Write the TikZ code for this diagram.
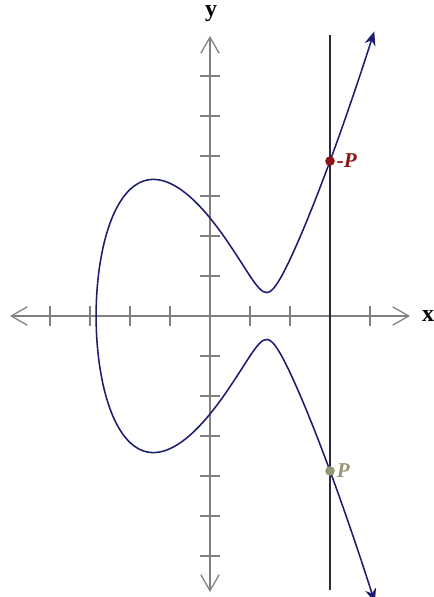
\documentclass[tikz,border=0pt]{standalone}
\usepackage{fontspec}
\setmainfont{Liberation Serif}
\usetikzlibrary{arrows.meta}
\definecolor{axisgray}{RGB}{128,128,128}
\definecolor{curvenavy}{RGB}{28,28,112}
\definecolor{linedark}{RGB}{45,40,60}
\definecolor{negred}{RGB}{140,20,20}
\definecolor{posolive}{RGB}{150,150,115}
\tikzset{
  axisline/.style={axisgray, line width=0.9pt, {Straight Barb[length=4mm,width=4.6mm]}-{Straight Barb[length=4mm,width=4.6mm]}},
  tickmark/.style={axisgray, line width=0.9pt},
  dotmark/.style={circle, inner sep=0pt, minimum size=2.4mm},
  ptlabel/.style={anchor=west, inner sep=1pt, font=\fontsize{15}{18}\selectfont\bfseries\itshape},
  axislabel/.style={font=\fontsize{17}{20}\selectfont\bfseries}
}

\begin{document}
\begin{tikzpicture}[x=1cm, y=1cm]
\useasboundingbox (-5.25,-7.025) rectangle (5.575,7.9);
\draw[axisline] (-5,0) -- (5,0);
\draw[axisline] (0,-6.9) -- (0,7);
\draw[tickmark] (-4,-0.25) -- (-4,0.25);
\draw[tickmark] (-3,-0.25) -- (-3,0.25);
\draw[tickmark] (-2,-0.25) -- (-2,0.25);
\draw[tickmark] (-1,-0.25) -- (-1,0.25);
\draw[tickmark] (1,-0.25) -- (1,0.25);
\draw[tickmark] (2,-0.25) -- (2,0.25);
\draw[tickmark] (3,-0.25) -- (3,0.25);
\draw[tickmark] (4,-0.25) -- (4,0.25);
\draw[tickmark] (-0.25,1) -- (0.25,1);
\draw[tickmark] (-0.25,2) -- (0.25,2);
\draw[tickmark] (-0.25,3) -- (0.25,3);
\draw[tickmark] (-0.25,4) -- (0.25,4);
\draw[tickmark] (-0.25,5) -- (0.25,5);
\draw[tickmark] (-0.25,6) -- (0.25,6);
\draw[tickmark] (-0.25,-1) -- (0.25,-1);
\draw[tickmark] (-0.25,-2) -- (0.25,-2);
\draw[tickmark] (-0.25,-3) -- (0.25,-3);
\draw[tickmark] (-0.25,-4) -- (0.25,-4);
\draw[tickmark] (-0.25,-5) -- (0.25,-5);
\draw[tickmark] (-0.25,-6) -- (0.25,-6);
\node[axislabel] (xlabel) at (5.45,0) {x};
\node[axislabel] (ylabel) at (0.03,7.55) {y};
% y^2 = x^3 - 6x + 6, traced through x = r + t^2
\draw[curvenavy, line width=1.1pt, {Stealth[length=3.5mm,width=2.8mm]}-{Stealth[length=3.5mm,width=2.8mm]}]
  plot[variable=\t, domain=-2.64:2.64, samples=241, smooth]
  ({-2.8473+\t*\t}, {sign(\t)*sqrt(max(0,(-2.8473+\t*\t)^3-6*(-2.8473+\t*\t)+6))});
\draw[linedark, line width=1pt] (3,7.02) -- (3,-6.85);
\node[dotmark, fill=negred] (negP) at (3,3.873) {};
\node[dotmark, fill=posolive] (posP) at (3,-3.873) {};
\node[ptlabel, text=negred] (negPlabel) at (negP.east) {-P};
\node[ptlabel, text=posolive] (posPlabel) at (posP.east) {P};
\end{tikzpicture}
\end{document}
